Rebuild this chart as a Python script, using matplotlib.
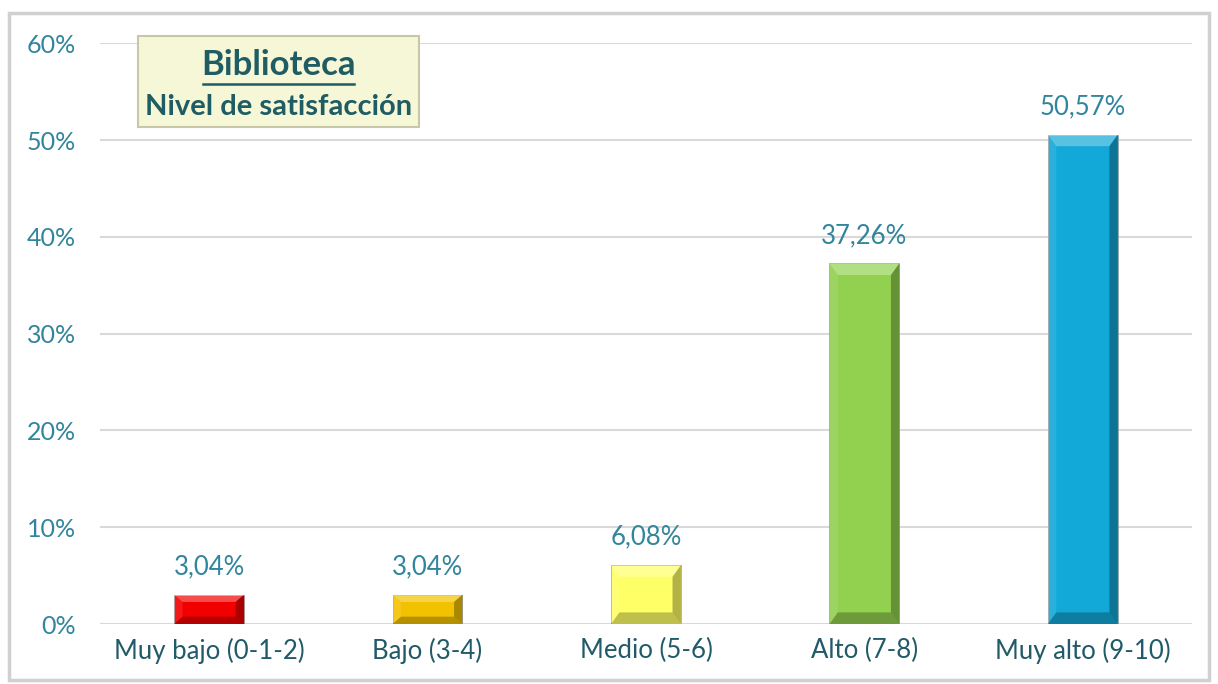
import matplotlib.pyplot as plt
from matplotlib.patches import Rectangle, Polygon, FancyBboxPatch

categories = ["Muy bajo (0-1-2)", "Bajo (3-4)", "Medio (5-6)", "Alto (7-8)", "Muy alto (9-10)"]
values = [3.04, 3.04, 6.08, 37.26, 50.57]
labels = ["3,04%", "3,04%", "6,08%", "37,26%", "50,57%"]
colors = ["#F20000", "#F2C200", "#FFFF66", "#92D050", "#12A8D8"]
ticks = [0, 10, 20, 30, 40, 50, 60]

plt.rcParams['font.family'] = ['Lato', 'DejaVu Sans']

fig = plt.figure(figsize=(12.18, 6.84), dpi=100)
fig.patches.append(Rectangle((0.007, 0.006), 0.986, 0.975, transform=fig.transFigure,
                             fill=False, edgecolor="#D0D0D0", lw=2.5))
ax = fig.add_axes([0.082, 0.0877, 0.8967, 0.849])

x = range(len(categories))
w = 0.32
bars = ax.bar(x, values, width=w, color=colors, edgecolor="#999999", lw=0.5, zorder=3)

# simple bevel: lighter top strip, darker sides/bottom
for b, c in zip(bars, colors):
    x0, y0 = b.get_x(), b.get_y()
    bw, bh = b.get_width(), b.get_height()
    dx = bw * 0.12
    dy = min(bh * 0.25, 1.2)
    top = Polygon([(x0, y0 + bh), (x0 + bw, y0 + bh), (x0 + bw - dx, y0 + bh - dy), (x0 + dx, y0 + bh - dy)],
                  closed=True, facecolor="white", alpha=0.3, lw=0, zorder=4)
    right = Polygon([(x0 + bw, y0), (x0 + bw, y0 + bh), (x0 + bw - dx, y0 + bh - dy), (x0 + bw - dx, y0 + dy)],
                    closed=True, facecolor="black", alpha=0.3, lw=0, zorder=4)
    bottom = Polygon([(x0, y0), (x0 + bw, y0), (x0 + bw - dx, y0 + dy), (x0 + dx, y0 + dy)],
                     closed=True, facecolor="black", alpha=0.25, lw=0, zorder=4)
    left = Polygon([(x0, y0), (x0, y0 + bh), (x0 + dx, y0 + bh - dy), (x0 + dx, y0 + dy)],
                   closed=True, facecolor="white", alpha=0.1, lw=0, zorder=4)
    for p in (top, right, bottom, left):
        ax.add_patch(p)

for i, (v, lab) in enumerate(zip(values, labels)):
    ax.text(i, v + 1.6, lab, ha="center", va="bottom", fontsize=18.5, color="#31859C", zorder=5)

ax.set_ylim(0, 60)
ax.set_xlim(-0.5, len(categories) - 0.5)
ax.set_yticks(ticks)
ax.set_yticklabels([f"{t}%" for t in ticks], fontsize=18, color="#31859C")
ax.set_xticks(list(x))
ax.set_xticklabels(categories, fontsize=18.5, color="#215A68")
ax.tick_params(axis="x", length=0, pad=10)
ax.tick_params(axis="y", length=0, pad=17)
ax.grid(axis="y", color="#D9D9D9", lw=1.5, zorder=0)
for s in ax.spines.values():
    s.set_visible(False)

# title box
box = FancyBboxPatch((0.113, 0.815), 0.231, 0.133, boxstyle="square,pad=0", transform=fig.transFigure,
                     facecolor="#F6F7D6", edgecolor="#C8C8A8", lw=1.5, zorder=6)
fig.patches.append(box)
fig.text(0.2285, 0.905, "Biblioteca", ha="center", va="center", fontsize=25, fontweight="bold",
         color="#1F5C63", zorder=7)
fig.add_artist(plt.Line2D([0.167, 0.291], [0.877, 0.877], transform=fig.transFigure, color="#1F5C63",
                          lw=1.8, zorder=8))
fig.text(0.2285, 0.843, "Nivel de satisfacción", ha="center", va="center", fontsize=21, fontweight="bold",
         color="#1F5C63", zorder=7)

fig.savefig("out.png", dpi=100)
